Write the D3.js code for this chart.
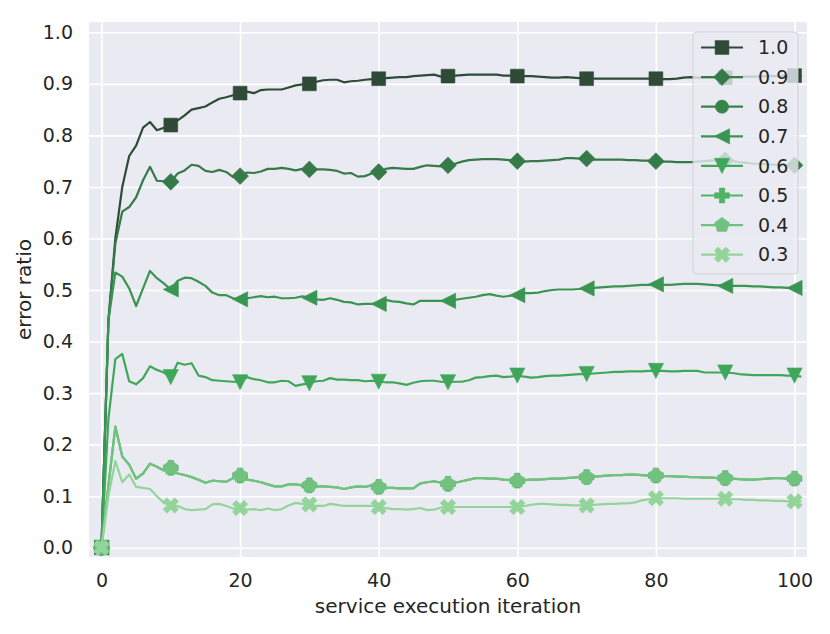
<!DOCTYPE html>
<html>
<head>
<meta charset="utf-8">
<script src="https://cdn.jsdelivr.net/npm/d3@7"></script>
<style>
  body { margin: 0; background: #fff; }
  svg text { font-family: "DejaVu Sans", sans-serif; fill: #262626; }
</style>
</head>
<body>
<div id="chart"></div>
<script>
// legend labels, colours and marker shapes (same order as the series below)
const labels = ["1.0", "0.9", "0.8", "0.7", "0.6", "0.5", "0.4", "0.3"];
const colors = ["#2f4b37", "#357a48", "#368449", "#3a9552", "#40a75a", "#4fb465", "#72c27f", "#93d49b"];
const markers = ["square", "diamond", "circle", "triangleLeft", "triangleDown", "plus", "pentagon", "x"];

// error ratio per service execution iteration (index = iteration)
const err10 = [0, 0.44, 0.60, 0.70, 0.76, 0.78, 0.815, 0.826, 0.81, 0.815,
  0.82, 0.829, 0.839, 0.85, 0.853, 0.856, 0.864, 0.871, 0.874, 0.878,
  0.882, 0.885, 0.882, 0.888, 0.889, 0.889, 0.889, 0.893, 0.897, 0.899,
  0.90, 0.904, 0.907, 0.908, 0.908, 0.903, 0.905, 0.906, 0.908, 0.909,
  0.910, 0.911, 0.912, 0.913, 0.913, 0.915, 0.916, 0.917, 0.918, 0.914,
  0.915, 0.916, 0.917, 0.918, 0.918, 0.918, 0.918, 0.918, 0.916, 0.916,
  0.915, 0.915, 0.915, 0.914, 0.913, 0.912, 0.912, 0.913, 0.912, 0.911,
  0.910, 0.910, 0.910, 0.910, 0.910, 0.910, 0.910, 0.910, 0.910, 0.910,
  0.910, 0.909, 0.909, 0.910, 0.912, 0.913, 0.912, 0.912, 0.912, 0.912,
  0.912, 0.913, 0.913, 0.914, 0.914, 0.914, 0.915, 0.915, 0.915, 0.916,
  0.916, 0.916];
const err09 = [0, 0.44, 0.59, 0.652, 0.661, 0.68, 0.713, 0.739, 0.712, 0.711,
  0.71, 0.726, 0.732, 0.743, 0.741, 0.731, 0.729, 0.733, 0.729, 0.719,
  0.721, 0.728, 0.727, 0.730, 0.735, 0.735, 0.737, 0.735, 0.732, 0.735,
  0.734, 0.734, 0.734, 0.733, 0.731, 0.726, 0.727, 0.720, 0.721, 0.726,
  0.729, 0.735, 0.737, 0.736, 0.735, 0.735, 0.739, 0.742, 0.741, 0.740,
  0.742, 0.745, 0.749, 0.752, 0.753, 0.754, 0.754, 0.754, 0.753, 0.752,
  0.750, 0.749, 0.750, 0.750, 0.751, 0.752, 0.753, 0.756, 0.756, 0.755,
  0.755, 0.753, 0.753, 0.753, 0.753, 0.753, 0.752, 0.752, 0.751, 0.751,
  0.750, 0.749, 0.749, 0.748, 0.748, 0.748, 0.749, 0.750, 0.751, 0.752,
  0.752, 0.750, 0.748, 0.747, 0.745, 0.745, 0.744, 0.743, 0.743, 0.742,
  0.742, 0.742];
const err08 = [0];
const err07 = [0, 0.44, 0.534, 0.526, 0.503, 0.469, 0.503, 0.537, 0.523, 0.513,
  0.501, 0.518, 0.524, 0.523, 0.516, 0.508, 0.495, 0.490, 0.490, 0.484,
  0.482, 0.484, 0.486, 0.488, 0.486, 0.487, 0.484, 0.484, 0.485, 0.488,
  0.485, 0.482, 0.481, 0.484, 0.481, 0.477, 0.476, 0.472, 0.473, 0.473,
  0.473, 0.481, 0.478, 0.477, 0.474, 0.472, 0.479, 0.479, 0.479, 0.479,
  0.479, 0.481, 0.483, 0.485, 0.487, 0.490, 0.492, 0.489, 0.487, 0.489,
  0.490, 0.494, 0.494, 0.495, 0.498, 0.500, 0.501, 0.501, 0.501, 0.502,
  0.503, 0.504, 0.505, 0.506, 0.507, 0.507, 0.508, 0.509, 0.510, 0.510,
  0.511, 0.510, 0.510, 0.511, 0.512, 0.512, 0.512, 0.511, 0.510, 0.509,
  0.508, 0.508, 0.508, 0.508, 0.507, 0.507, 0.506, 0.505, 0.505, 0.504,
  0.504, 0.504];
const err06 = [0, 0.25, 0.366, 0.376, 0.323, 0.317, 0.329, 0.352, 0.345, 0.340,
  0.331, 0.359, 0.355, 0.358, 0.334, 0.331, 0.325, 0.324, 0.323, 0.322,
  0.321, 0.331, 0.327, 0.325, 0.321, 0.321, 0.324, 0.323, 0.314, 0.317,
  0.319, 0.323, 0.324, 0.329, 0.326, 0.326, 0.325, 0.325, 0.323, 0.324,
  0.322, 0.321, 0.321, 0.319, 0.316, 0.320, 0.323, 0.324, 0.324, 0.322,
  0.321, 0.322, 0.322, 0.325, 0.330, 0.331, 0.333, 0.334, 0.331, 0.332,
  0.334, 0.332, 0.330, 0.331, 0.333, 0.334, 0.334, 0.335, 0.336, 0.337,
  0.337, 0.338, 0.339, 0.340, 0.341, 0.341, 0.342, 0.342, 0.342, 0.343,
  0.343, 0.343, 0.342, 0.342, 0.343, 0.343, 0.343, 0.340, 0.340, 0.340,
  0.340, 0.339, 0.337, 0.336, 0.335, 0.335, 0.335, 0.335, 0.335, 0.334,
  0.334, 0.332];
// 0.5 sits right under 0.4 (only its plus markers peek out)
const err05 = [0, 0.12, 0.235, 0.177, 0.161, 0.134, 0.144, 0.163, 0.157, 0.150,
  0.155, 0.144, 0.141, 0.137, 0.132, 0.126, 0.130, 0.129, 0.128, 0.135,
  0.140, 0.132, 0.130, 0.127, 0.123, 0.119, 0.119, 0.123, 0.123, 0.121,
  0.121, 0.119, 0.119, 0.118, 0.117, 0.114, 0.117, 0.119, 0.118, 0.121,
  0.118, 0.116, 0.116, 0.115, 0.115, 0.115, 0.125, 0.127, 0.129, 0.126,
  0.124, 0.126, 0.129, 0.132, 0.135, 0.135, 0.134, 0.134, 0.132, 0.131,
  0.130, 0.131, 0.132, 0.132, 0.133, 0.134, 0.134, 0.135, 0.136, 0.137,
  0.137, 0.138, 0.139, 0.140, 0.141, 0.141, 0.142, 0.142, 0.141, 0.140,
  0.140, 0.139, 0.139, 0.138, 0.138, 0.137, 0.137, 0.136, 0.136, 0.135,
  0.135, 0.134, 0.133, 0.132, 0.132, 0.133, 0.134, 0.135, 0.135, 0.134,
  0.134, 0.132];
const err04 = [0, 0.12, 0.235, 0.177, 0.161, 0.134, 0.144, 0.163, 0.157, 0.150,
  0.155, 0.144, 0.141, 0.137, 0.132, 0.126, 0.130, 0.129, 0.128, 0.135,
  0.140, 0.132, 0.130, 0.127, 0.123, 0.119, 0.119, 0.123, 0.123, 0.121,
  0.121, 0.119, 0.119, 0.118, 0.117, 0.114, 0.117, 0.119, 0.118, 0.121,
  0.118, 0.116, 0.116, 0.115, 0.115, 0.115, 0.125, 0.127, 0.129, 0.126,
  0.124, 0.126, 0.129, 0.132, 0.135, 0.135, 0.134, 0.134, 0.132, 0.131,
  0.130, 0.131, 0.132, 0.132, 0.133, 0.134, 0.134, 0.135, 0.136, 0.137,
  0.137, 0.138, 0.139, 0.140, 0.141, 0.141, 0.142, 0.142, 0.141, 0.140,
  0.140, 0.139, 0.139, 0.138, 0.138, 0.137, 0.137, 0.136, 0.136, 0.135,
  0.135, 0.134, 0.133, 0.132, 0.132, 0.133, 0.134, 0.135, 0.135, 0.134,
  0.134, 0.132];
const err03 = [0, 0.10, 0.168, 0.127, 0.142, 0.118, 0.116, 0.114, 0.100, 0.087,
  0.082, 0.081, 0.075, 0.073, 0.074, 0.075, 0.084, 0.085, 0.081, 0.076,
  0.077, 0.074, 0.075, 0.073, 0.076, 0.073, 0.075, 0.082, 0.087, 0.085,
  0.084, 0.081, 0.081, 0.085, 0.083, 0.081, 0.081, 0.081, 0.081, 0.081,
  0.079, 0.077, 0.075, 0.075, 0.074, 0.075, 0.077, 0.073, 0.074, 0.078,
  0.079, 0.079, 0.079, 0.079, 0.079, 0.079, 0.079, 0.079, 0.079, 0.079,
  0.079, 0.081, 0.083, 0.085, 0.085, 0.084, 0.083, 0.083, 0.082, 0.082,
  0.082, 0.083, 0.084, 0.085, 0.085, 0.086, 0.086, 0.088, 0.092, 0.094,
  0.096, 0.096, 0.096, 0.096, 0.095, 0.095, 0.095, 0.095, 0.095, 0.095,
  0.095, 0.094, 0.094, 0.093, 0.093, 0.092, 0.092, 0.091, 0.091, 0.090,
  0.090, 0.090];

const seriesValues = [err10, err09, err08, err07, err06, err05, err04, err03];
const xTicks = [0, 20, 40, 60, 80, 100];
const yTicks = [0, 0.1, 0.2, 0.3, 0.4, 0.5, 0.6, 0.7, 0.8, 0.9, 1.0];
const markEvery = 10;

// set the dimensions and margins of the graph
const margin = {top: 22, right: 23, bottom: 77, left: 89},
    width = 830 - margin.left - margin.right,
    height = 634 - margin.top - margin.bottom;

const svg = d3.select("#chart")
    .append("svg")
    .attr("width", 830)
    .attr("height", 634)
    .append("g")
    .attr("transform", `translate(${margin.left}, ${margin.top})`);

// scales
const x = d3.scaleLinear().domain([-1.8, 101.8]).range([0, width]);
const y = d3.scaleLinear().domain([-0.018, 1.02]).range([height, 0]);

// background
svg.append("rect")
    .attr("width", width)
    .attr("height", height)
    .attr("fill", "#eaeaf2");

// axes + white grid
const xAxis = svg.append("g")
    .attr("transform", `translate(0, ${height})`)
    .call(d3.axisBottom(x).tickValues(xTicks).tickSize(-height).tickPadding(16.5));
const yAxis = svg.append("g")
    .call(d3.axisLeft(y).tickValues(yTicks).tickFormat(d3.format(".1f")).tickSize(-width).tickPadding(16));

[xAxis, yAxis].forEach(a => {
    a.select(".domain").remove();
    a.selectAll(".tick line").attr("stroke", "#ffffff").attr("stroke-width", 1.6);
    a.selectAll(".tick text").style("font-size", "19px").attr("fill", "#262626");
});

// axis labels
svg.append("text")
    .attr("x", width / 2)
    .attr("y", 591)
    .attr("text-anchor", "middle")
    .style("font-size", "20px")
    .text("service execution iteration");

svg.append("text")
    .attr("transform", `translate(${31 - margin.left}, ${height / 2}) rotate(-90)`)
    .attr("text-anchor", "middle")
    .style("font-size", "20px")
    .text("error ratio");

// marker shapes, centred on 0,0
function poly(pts) {
    return "M" + pts.map(p => p[0].toFixed(2) + "," + p[1].toFixed(2)).join("L") + "Z";
}
function cross(a, t, rot) {
    const base = [[-t, -a], [t, -a], [t, -t], [a, -t], [a, t], [t, t], [t, a], [-t, a], [-t, t], [-a, t], [-a, -t], [-t, -t]];
    const c = Math.cos(rot), s = Math.sin(rot);
    return poly(base.map(p => [p[0] * c - p[1] * s, p[0] * s + p[1] * c]));
}
function markerPath(type) {
    if (type === "square") {
        const s = 6.9;
        return poly([[-s, -s], [s, -s], [s, s], [-s, s]]);
    } else if (type === "diamond") {
        const d = 8.4;
        return poly([[0, -d], [d, 0], [0, d], [-d, 0]]);
    } else if (type === "circle") {
        return d3.symbol(d3.symbolCircle, Math.PI * 6.6 * 6.6)();
    } else if (type === "triangleLeft") {
        const h = 7.6;
        return poly([[-h, 0], [h, -h], [h, h]]);
    } else if (type === "triangleDown") {
        const h = 7.6;
        return poly([[0, h], [-h, -h], [h, -h]]);
    } else if (type === "pentagon") {
        const r = 7.8;
        return poly(d3.range(5).map(k => {
            const ang = -Math.PI / 2 + k * 2 * Math.PI / 5;
            return [r * Math.cos(ang), r * Math.sin(ang)];
        }));
    } else if (type === "plus") {
        return cross(7.4, 2.7, 0);
    } else if (type === "x") {
        return cross(8.2, 2.7, Math.PI / 4);
    }
}

const line = d3.line()
    .x((d, i) => x(i))
    .y(d => y(d));

// lines and markers (drawn in legend order)
seriesValues.forEach((vals, k) => {
    const g = svg.append("g").attr("class", "series");
    g.append("path")
        .datum(vals)
        .attr("fill", "none")
        .attr("stroke", colors[k])
        .attr("stroke-width", 2.2)
        .attr("stroke-linejoin", "round")
        .attr("d", line);
    g.selectAll("path.marker")
        .data(vals.map((v, i) => [i, v]).filter(d => d[0] % markEvery === 0))
        .join("path")
        .attr("class", "marker")
        .attr("transform", d => `translate(${x(d[0])}, ${y(d[1])})`)
        .attr("d", markerPath(markers[k]))
        .attr("fill", colors[k])
        .attr("stroke", colors[k])
        .attr("stroke-width", 0.6);
});

// legend
const legend = svg.append("g")
    .attr("transform", `translate(${693 - margin.left}, ${32 - margin.top})`);
legend.append("rect")
    .attr("width", 105)
    .attr("height", 242)
    .attr("rx", 4)
    .attr("fill", "#eaeaf2")
    .attr("fill-opacity", 0.8)
    .attr("stroke", "#cccccc")
    .attr("stroke-opacity", 0.8)
    .attr("stroke-width", 1);

labels.forEach((lab, k) => {
    const row = legend.append("g")
        .attr("transform", `translate(0, ${15.5 + k * 29.6})`);
    row.append("line")
        .attr("x1", 8).attr("x2", 50)
        .attr("stroke", colors[k])
        .attr("stroke-width", 2.2);
    row.append("path")
        .attr("transform", "translate(29, 0)")
        .attr("d", markerPath(markers[k]))
        .attr("fill", colors[k])
        .attr("stroke", colors[k])
        .attr("stroke-width", 0.6);
    row.append("text")
        .attr("x", 65)
        .attr("dy", "0.35em")
        .style("font-size", "19px")
        .text(lab);
});
</script>
</body>
</html>
